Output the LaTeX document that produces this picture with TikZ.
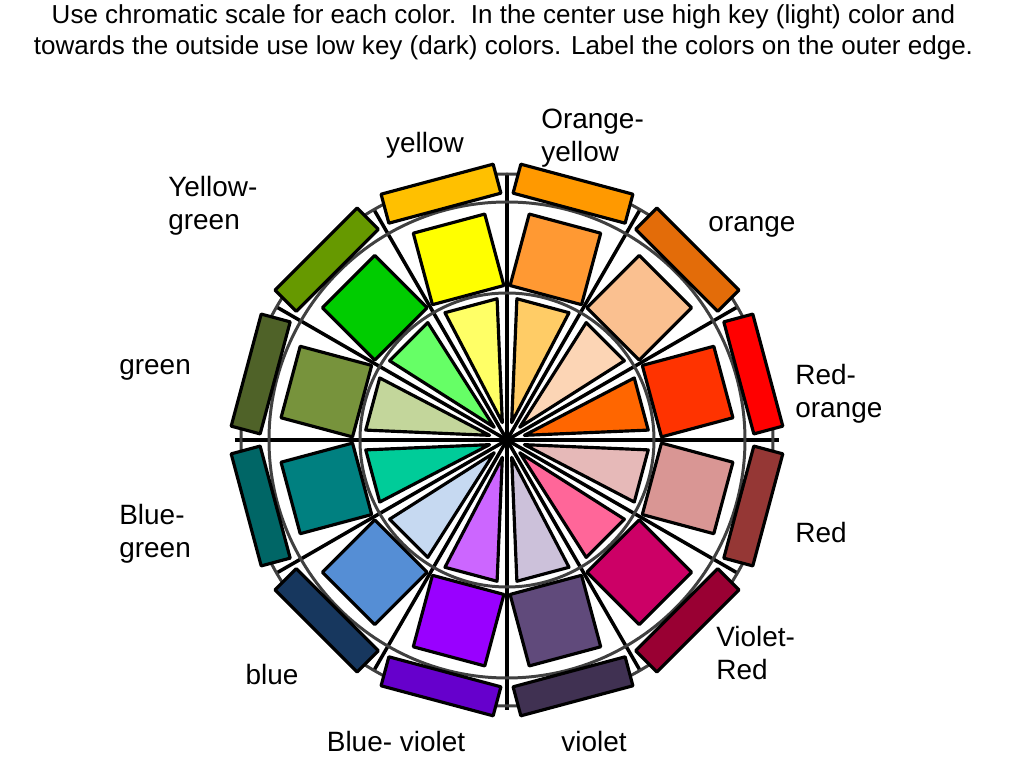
\documentclass[tikz,border=0pt]{standalone}
\usepackage{xcolor}
\usepackage{fontspec}
\setmainfont{Liberation Sans}
\usepackage{tikz}

% A = outer (low key), B = middle, C = center (high key)
\definecolor{yelA}{HTML}{FFC000}\definecolor{yelB}{HTML}{FFFF00}\definecolor{yelC}{HTML}{FFFF66}
\definecolor{oyeA}{HTML}{FF9900}\definecolor{oyeB}{HTML}{FF9933}\definecolor{oyeC}{HTML}{FFCC66}
\definecolor{oraA}{HTML}{E36C09}\definecolor{oraB}{HTML}{FAC090}\definecolor{oraC}{HTML}{FCD5B5}
\definecolor{roA}{HTML}{FF0000}\definecolor{roB}{HTML}{FF3300}\definecolor{roC}{HTML}{FF6600}
\definecolor{redA}{HTML}{953735}\definecolor{redB}{HTML}{D99694}\definecolor{redC}{HTML}{E6B9B8}
\definecolor{vrA}{HTML}{990033}\definecolor{vrB}{HTML}{CC0066}\definecolor{vrC}{HTML}{FF6699}
\definecolor{vioA}{HTML}{403152}\definecolor{vioB}{HTML}{604A7B}\definecolor{vioC}{HTML}{CCC1DA}
\definecolor{bvA}{HTML}{6600CC}\definecolor{bvB}{HTML}{9900FF}\definecolor{bvC}{HTML}{CC66FF}
\definecolor{bluA}{HTML}{17375E}\definecolor{bluB}{HTML}{558ED5}\definecolor{bluC}{HTML}{C6D9F1}
\definecolor{bgA}{HTML}{006666}\definecolor{bgB}{HTML}{008080}\definecolor{bgC}{HTML}{00CC99}
\definecolor{greA}{HTML}{4F6228}\definecolor{greB}{HTML}{77933C}\definecolor{greC}{HTML}{C3D69B}
\definecolor{ygA}{HTML}{669900}\definecolor{ygB}{HTML}{00CC00}\definecolor{ygC}{HTML}{66FF66}

\begin{document}
\begin{tikzpicture}[x=2cm,y=2cm,
    swatch/.style={draw, line width=1.8pt, line join=round},
    ring/.style={draw=black!75, line width=1.7pt},
    spoke/.style={line width=2pt},
    lbl/.style={inner sep=0pt, align=left, font=\fontsize{15.9}{18.7}\selectfont}]
    \useasboundingbox (-5.07,-3.28) rectangle (5.17,4.40);

    \node[font=\fontsize{14.8}{17.6}\selectfont, align=center] (title) at (-0.035,4.08)
      {Use chromatic scale for each color.\ \ In the center use high key (light) color and\\
       towards the outside use low key (dark) colors. Label the colors on the outer edge.};

    \coordinate (ctr) at (0,0);
    \draw[spoke] (-2.72,0) -- (2.72,0);
    \draw[spoke] (0,2.66) -- (0,-2.70);
    \draw[spoke] (30:2.66) -- (210:2.66);
    \draw[spoke] (60:2.66) -- (240:2.66);
    \draw[spoke] (120:2.66) -- (300:2.66);
    \draw[spoke] (150:2.66) -- (330:2.66);
    \draw[ring] (ctr) circle (1.47);
    \draw[ring] (ctr) circle (2.38);
    \draw[ring] (ctr) circle (2.66);

    % yellow
    \draw[swatch, fill=yelC, rotate=105] (0.18,0) -- (1.39,0.27) -- (1.39,-0.27) -- cycle;
    \draw[swatch, fill=yelB, rotate=105] (1.50,-0.37) rectangle (2.24,0.37);
    \draw[swatch, fill=yelA, rotate=105] (2.40,-0.58) rectangle (2.70,0.58);
    % orange-yellow
    \draw[swatch, fill=oyeC, rotate=75] (0.18,0) -- (1.39,0.27) -- (1.39,-0.27) -- cycle;
    \draw[swatch, fill=oyeB, rotate=75] (1.50,-0.37) rectangle (2.24,0.37);
    \draw[swatch, fill=oyeA, rotate=75] (2.40,-0.58) rectangle (2.70,0.58);
    % orange
    \draw[swatch, fill=oraC, rotate=45] (0.18,0) -- (1.39,0.27) -- (1.39,-0.27) -- cycle;
    \draw[swatch, fill=oraB, rotate=45] (1.50,-0.37) rectangle (2.24,0.37);
    \draw[swatch, fill=oraA, rotate=45] (2.40,-0.58) rectangle (2.70,0.58);
    % red-orange
    \draw[swatch, fill=roC, rotate=15] (0.18,0) -- (1.39,0.27) -- (1.39,-0.27) -- cycle;
    \draw[swatch, fill=roB, rotate=15] (1.50,-0.37) rectangle (2.24,0.37);
    \draw[swatch, fill=roA, rotate=15] (2.40,-0.58) rectangle (2.70,0.58);
    % red
    \draw[swatch, fill=redC, rotate=-15] (0.18,0) -- (1.39,0.27) -- (1.39,-0.27) -- cycle;
    \draw[swatch, fill=redB, rotate=-15] (1.50,-0.37) rectangle (2.24,0.37);
    \draw[swatch, fill=redA, rotate=-15] (2.40,-0.58) rectangle (2.70,0.58);
    % violet-red
    \draw[swatch, fill=vrC, rotate=-45] (0.18,0) -- (1.39,0.27) -- (1.39,-0.27) -- cycle;
    \draw[swatch, fill=vrB, rotate=-45] (1.50,-0.37) rectangle (2.24,0.37);
    \draw[swatch, fill=vrA, rotate=-45] (2.40,-0.58) rectangle (2.70,0.58);
    % violet
    \draw[swatch, fill=vioC, rotate=-75] (0.18,0) -- (1.39,0.27) -- (1.39,-0.27) -- cycle;
    \draw[swatch, fill=vioB, rotate=-75] (1.50,-0.37) rectangle (2.24,0.37);
    \draw[swatch, fill=vioA, rotate=-75] (2.40,-0.58) rectangle (2.70,0.58);
    % blue-violet
    \draw[swatch, fill=bvC, rotate=-105] (0.18,0) -- (1.39,0.27) -- (1.39,-0.27) -- cycle;
    \draw[swatch, fill=bvB, rotate=-105] (1.50,-0.37) rectangle (2.24,0.37);
    \draw[swatch, fill=bvA, rotate=-105] (2.40,-0.58) rectangle (2.70,0.58);
    % blue
    \draw[swatch, fill=bluC, rotate=-135] (0.18,0) -- (1.39,0.27) -- (1.39,-0.27) -- cycle;
    \draw[swatch, fill=bluB, rotate=-135] (1.50,-0.37) rectangle (2.24,0.37);
    \draw[swatch, fill=bluA, rotate=-135] (2.40,-0.58) rectangle (2.70,0.58);
    % blue-green
    \draw[swatch, fill=bgC, rotate=-165] (0.18,0) -- (1.39,0.27) -- (1.39,-0.27) -- cycle;
    \draw[swatch, fill=bgB, rotate=-165] (1.50,-0.37) rectangle (2.24,0.37);
    \draw[swatch, fill=bgA, rotate=-165] (2.40,-0.58) rectangle (2.70,0.58);
    % green
    \draw[swatch, fill=greC, rotate=165] (0.18,0) -- (1.39,0.27) -- (1.39,-0.27) -- cycle;
    \draw[swatch, fill=greB, rotate=165] (1.50,-0.37) rectangle (2.24,0.37);
    \draw[swatch, fill=greA, rotate=165] (2.40,-0.58) rectangle (2.70,0.58);
    % yellow-green
    \draw[swatch, fill=ygC, rotate=135] (0.18,0) -- (1.39,0.27) -- (1.39,-0.27) -- cycle;
    \draw[swatch, fill=ygB, rotate=135] (1.50,-0.37) rectangle (2.24,0.37);
    \draw[swatch, fill=ygA, rotate=135] (2.40,-0.58) rectangle (2.70,0.58);

    \node[lbl] (lblYellow) at (-0.82,2.95) {yellow};
    \node[lbl, anchor=west] (lblOrangeYellow) at (0.34,3.02) {Orange-\\yellow};
    \node[lbl] (lblOrange) at (2.45,2.13) {orange};
    \node[lbl, anchor=west] (lblRedOrange) at (2.88,0.46) {Red-\\orange};
    \node[lbl, anchor=west] (lblRed) at (2.88,-0.93) {Red};
    \node[lbl, anchor=west] (lblVioletRed) at (2.09,-2.13) {Violet-\\Red};
    \node[lbl] (lblViolet) at (0.87,-3.02) {violet};
    \node[lbl] (lblBlueViolet) at (-1.11,-3.02) {Blue- violet};
    \node[lbl] (lblBlue) at (-2.35,-2.35) {blue};
    \node[lbl, anchor=west] (lblBlueGreen) at (-3.88,-0.94) {Blue-\\green};
    \node[lbl, anchor=west] (lblGreen) at (-3.88,0.70) {green};
    \node[lbl, anchor=west] (lblYellowGreen) at (-3.39,2.34) {Yellow-\\green};
\end{tikzpicture}
\end{document}
